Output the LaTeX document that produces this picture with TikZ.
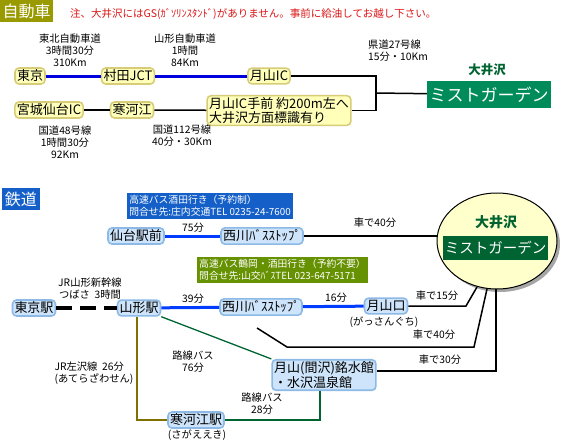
\documentclass[tikz,border=0pt]{standalone}
\usepackage{fontspec}
\setmainfont{Noto Sans CJK JP}
\usetikzlibrary{shapes.geometric,shadows}
\definecolor{hdrolive}{RGB}{153,153,0}
\definecolor{notered}{RGB}{220,20,20}
\definecolor{infoblue}{RGB}{20,96,200}
\definecolor{infogreen}{RGB}{102,145,0}
\definecolor{mistgreen}{RGB}{0,140,90}
\definecolor{mistdark}{RGB}{0,100,50}
\definecolor{carblue}{RGB}{0,0,220}
\definecolor{trainblue}{RGB}{0,60,255}
\definecolor{busgreen}{RGB}{0,100,50}
\definecolor{jrolive}{RGB}{128,112,0}
\definecolor{ellfill}{RGB}{255,255,204}
\definecolor{cfill}{RGB}{255,255,185}
\definecolor{cedge}{RGB}{215,205,120}
\definecolor{tfill}{RGB}{205,228,250}
\definecolor{tedge}{RGB}{140,185,230}
\tikzset{
  cn/.style={fill=cfill, draw=cedge, line width=1.6pt, rounded corners=4pt, inner sep=2pt,
    font=\fontsize{13}{13.5}\selectfont},
  tn/.style={fill=tfill, draw=tedge, line width=1.6pt, rounded corners=4pt, inner sep=2pt,
    font=\fontsize{13}{13.5}\selectfont},
  lbl/.style={inner sep=0pt, font=\fontsize{10.3}{12}\selectfont, align=center},
  lbll/.style={inner sep=0pt, font=\fontsize{10.3}{12}\selectfont, align=left},
  infobox/.style={inner sep=2pt, text=white, font=\fontsize{9.8}{12}\selectfont, align=left},
  bluelink/.style={line width=3pt},
  blk/.style={line width=1.5pt, black},
  hdr/.style={text=white, inner sep=1pt, font=\fontsize{16}{16}\selectfont}
}
\begin{document}
\begin{tikzpicture}[x=1pt,y=-1pt]
\useasboundingbox (0,0) rectangle (566,442);
% headers
\node[hdr, fill=hdrolive, minimum width=53, minimum height=22] (h1) at (26.5,11) {自動車};
\node[anchor=west, text=notered, inner sep=0pt, font=\fontsize{10.5}{10.5}\selectfont] (note) at (70,14)
  {注、大井沢にはGS(ｶﾞｿﾘﾝｽﾀﾝﾄﾞ)がありません。事前に給油してお越し下さい。};
\node[hdr, fill=infoblue, minimum width=38, minimum height=22] (h2) at (21,199) {鉄道};

% ---------- car section ----------
\node[cn] (tokyo) at (30,76) {東京};
\node[cn] (murata) at (128,76) {村田JCT};
\node[cn] (gassanic) at (269,76) {月山IC};
\node[cn] (sendaiic) at (49,110) {宮城仙台IC};
\node[cn] (sagae) at (132,110) {寒河江};
\node[cn, align=left] (temae) at (279,110.5) {月山IC手前 約200m左へ\\大井沢方面標識有り};

\node[lbl] (l1) at (70,50) {東北自動車道\\3時間30分\\310Km};
\node[lbl] (l2) at (185,50) {山形自動車道\\1時間\\84Km};
\node[lbll, anchor=west] (l3) at (368,51) {県道27号線\\15分・10Km};
\node[lbl] (l4) at (65,142) {国道48号線\\1時間30分\\92Km};
\node[lbl] (l5) at (182,136) {国道112号線\\40分・30Km};

\node[fill=mistgreen, text=white, minimum width=124, minimum height=27, inner sep=0pt,
  font=\fontsize{17}{17}\selectfont] (mist1) at (489,94.5) {ミストガーデン};
\node[text=mistdark, inner sep=0pt, font=\bfseries\fontsize{12.5}{12.5}\selectfont] (oi1) at (487,70) {大井沢};

\draw[carblue, bluelink] (tokyo) -- (murata);
\draw[carblue, bluelink] (murata) -- (gassanic);
\draw[blk] (sendaiic) -- (sagae);
\draw[blk] (sagae) -- (temae);
\coordinate (j1) at (376,76);
\coordinate (j2) at (376,110.5);
\coordinate (j3) at (376,93);
\draw[blk] (gassanic) -- (j1) -- (j2) -- (temae);
\draw[blk] (j3) -- (mist1);

% ---------- train section ----------
\node[infobox, fill=infoblue, minimum width=164, minimum height=24] (info1) at (210,206)
  {高速バス酒田行き（予約制）\\問合せ先:庄内交通TEL 0235-24-7600};
\node[infobox, fill=infogreen, minimum width=157, minimum height=25] (info2) at (282.5,270)
  {高速バス鶴岡・酒田行き（予約不要）\\問合せ先:山交ﾊﾞｽTEL 023-647-5171};

\node[ellipse, draw, line width=1pt, fill=ellfill, minimum width=120, minimum height=96,
  drop shadow={shadow xshift=3pt, shadow yshift=-3pt, opacity=0.7}] (ell) at (497,241) {};
\node[text=mistdark, inner sep=0pt, font=\bfseries\fontsize{14}{14}\selectfont] (oi2) at (496,222) {大井沢};
\node[fill=mistdark, text=white, minimum width=105, minimum height=24, inner sep=0pt,
  font=\fontsize{14.5}{14.5}\selectfont] (mist2) at (495.5,247.5) {ミストガーデン};

\node[tn] (sendaist) at (136,236) {仙台駅前};
\node[tn] (nishi1) at (262,236) {西川ﾊﾞｽｽﾄｯﾌﾟ};
\node[tn] (tokyost) at (34,308) {東京駅};
\node[tn] (yamagata) at (139,308) {山形駅};
\node[tn] (nishi2) at (261,307) {西川ﾊﾞｽｽﾄｯﾌﾟ};
\node[tn] (gassanguchi) at (386,306) {月山口};
\node[tn, align=left] (meisui) at (324,375) {月山(間沢)銘水館\\・水沢温泉館};
\node[tn] (sagaest) at (196,420) {寒河江駅};

\node[lbl] (t1) at (193,228) {75分};
\node[lbl] (t2) at (375,223) {車で40分};
\node[lbl] (t3) at (90,289) {JR山形新幹線\\つばさ\ \ 3時間};
\node[lbl] (t4) at (193,299) {39分};
\node[lbl] (t5) at (336,298) {16分};
\node[lbl] (t6) at (384,322) {(がっさんぐち)};
\node[lbl] (t7) at (437,296) {車で15分};
\node[lbl] (t8) at (434,335) {車で40分};
\node[lbl] (t9) at (440,360) {車で30分};
\node[lbl] (t10) at (193,362) {路線バス\\76分};
\node[lbll] (t11) at (94,373) {JR左沢線\ \ 26分\\(あてらざわせん)};
\node[lbl] (t12) at (262,404) {路線バス\\28分};
\node[lbl] (t13) at (197,435) {(さがええき)};

\draw[trainblue, bluelink] (sendaist) -- (nishi1);
\coordinate (e1) at (437.5,236);
\draw[blk] (nishi1) -- (e1);
\draw[line width=4pt, dash pattern=on 16pt off 8pt] (tokyost) -- (yamagata);
\draw[trainblue, bluelink] (yamagata) -- (nishi2);
\draw[trainblue, bluelink] (nishi2) -- (gassanguchi);
\coordinate (g1) at (466,306);
\coordinate (g2) at (477,287);
\draw[blk] (gassanguchi) -- (g1) -- (g2);
\coordinate (n1) at (257,328);
\coordinate (n2) at (287,347);
\coordinate (n3) at (474,347);
\coordinate (n4) at (487,289);
\draw[blk] (n1) -- (n2) -- (n3) -- (n4);
\coordinate (m1) at (496,371);
\coordinate (m2) at (496,289);
\draw[blk] (meisui.east |- m1) -- (m1) -- (m2);
\draw[busgreen, line width=1.3pt] (yamagata.south east) -- (meisui.north west);
\coordinate (o1) at (137,420);
\draw[jrolive, line width=1.3pt] (yamagata.south -| o1) -- (o1) -- (sagaest);
\coordinate (s1) at (320,420);
\draw[busgreen, line width=1.3pt] (sagaest) -- (s1) -- (s1 |- meisui.south);
\end{tikzpicture}
\end{document}
